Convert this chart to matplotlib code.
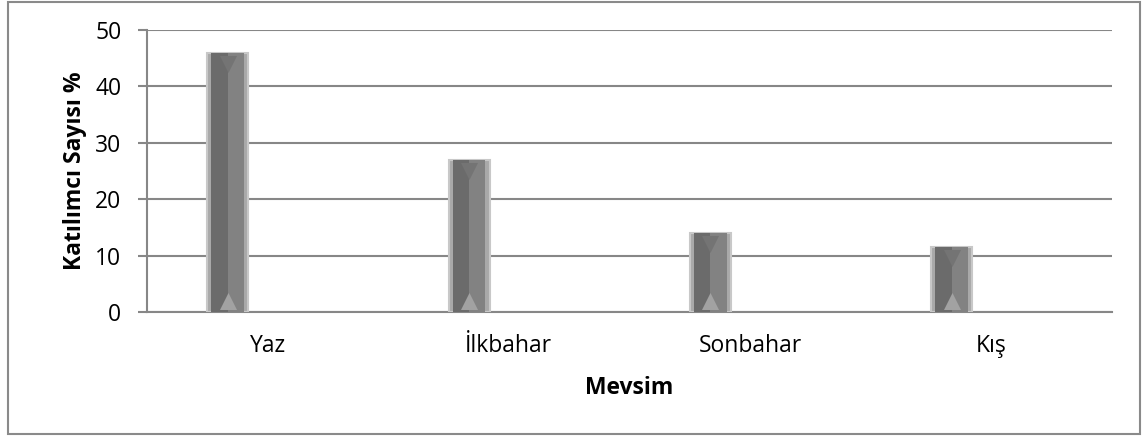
import matplotlib.pyplot as plt
from matplotlib.patches import Rectangle
import numpy as np

plt.rcParams['font.family'] = ['Open Sans', 'DejaVu Sans']

seasons = ['Yaz', 'İlkbahar', 'Sonbahar', 'Kış']
percent = [46, 27, 14, 11.5]

fig = plt.figure(figsize=(11.44, 4.45), dpi=100)
ax = fig.add_axes([0.1285, 0.2989, 0.8435, 0.6337])

x = np.arange(len(seasons))
off = -0.165
w = 0.17

# bevelled bars: light rim, darker left half, lighter right half
ax.bar(x + off, percent, width=w, color='#a9a9a9', edgecolor='#c8c8c8', linewidth=1.5, zorder=3)
ax.bar(x + off - w * 0.2, percent, width=w * 0.4, color='#6b6b6b', linewidth=0, zorder=4)
ax.bar(x + off + w * 0.2, percent, width=w * 0.4, color='#828282', linewidth=0, zorder=4)
ax.scatter(x + off, np.full(len(x), 1.9), marker='^', s=150, color='#a2a2a2',
           zorder=5, linewidths=0, clip_on=False)
ax.scatter(x + off, np.array(percent) - 2.0, marker='v', s=150, color='#747474',
           zorder=5, linewidths=0, clip_on=False)

ax.set_xlim(-0.5, 3.5)
ax.set_ylim(0, 50)
ax.set_yticks(range(0, 51, 10))
ax.set_xticks(x)
ax.set_xticklabels(seasons)
ax.yaxis.grid(True, color='#878787', linewidth=1.5, zorder=0)
ax.set_axisbelow(True)
for s in ['top', 'right']:
    ax.spines[s].set_visible(False)
ax.spines['left'].set_color('#878787')
ax.spines['bottom'].set_color('#878787')
ax.spines['left'].set_linewidth(1.5)
ax.spines['bottom'].set_linewidth(1.5)
ax.tick_params(axis='y', length=6.5, width=1.5, color='#878787', pad=12, labelsize=16.5)
ax.tick_params(axis='x', length=0, pad=16, labelsize=16.5)

ax.set_xlabel('Mevsim', fontsize=16.5, fontweight='bold', labelpad=13)
ax.set_ylabel('Katılımcı Sayısı %', fontsize=16.5, fontweight='bold', labelpad=6)

fig.patches.append(Rectangle((0.007, 0.0247), 0.9895, 0.971, transform=fig.transFigure,
                             fill=False, edgecolor='#8a8a8a', linewidth=1.5))

fig.savefig('out.png', dpi=100)
